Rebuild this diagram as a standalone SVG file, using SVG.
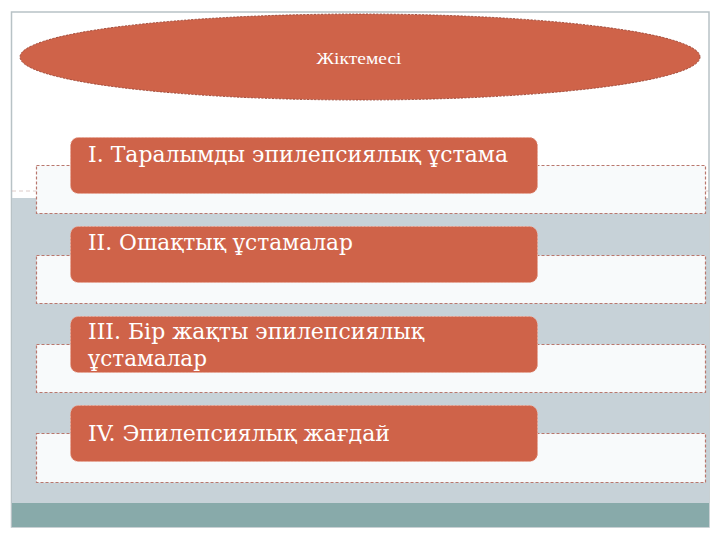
<svg xmlns="http://www.w3.org/2000/svg" width="720" height="540" viewBox="0 0 720 540">
<style>
.box{fill:#cf6349;stroke:#e8a898;stroke-width:1;stroke-dasharray:2 1.5}
.band{fill:#f8fafb;stroke:#b9776d;stroke-width:1.2;stroke-dasharray:3 2}
.lbl{font-family:"DejaVu Serif Condensed","Liberation Serif",serif;font-size:23px;fill:#ffffff}
</style>
<rect x="0" y="0" width="720" height="540" fill="#ffffff"/>
<g id="frame">
<rect x="11.5" y="12" width="697.5" height="515" fill="#ffffff" stroke="#b8c2c6" stroke-width="1.5"/>
<rect x="12" y="198" width="697" height="305" fill="#c7d2d8"/>
<rect x="12" y="503" width="697" height="24" fill="#88aaaa"/>
<line x1="12" y1="191" x2="709" y2="191" stroke="#c9aaa6" stroke-width="1" stroke-dasharray="4 3" opacity="0.6"/>
</g>
<g id="header">
<ellipse cx="360" cy="57" rx="340" ry="43" fill="#cf6349" stroke="#9e4b3b" stroke-width="1" stroke-dasharray="2 1.5"/>
<text x="359" y="64" text-anchor="middle" font-family="Liberation Serif, DejaVu Serif, serif" font-size="16" fill="#ffffff" textLength="85" lengthAdjust="spacingAndGlyphs">Жіктемесі</text>
</g>
<g id="connectors"></g>
<g id="node1">
<rect class="band" x="36.5" y="165.5" width="669" height="48"/>
<rect class="box" x="70.5" y="137.5" width="467" height="56" rx="8"/>
<text class="lbl" x="88" y="162" textLength="420" lengthAdjust="spacingAndGlyphs">I. Таралымды эпилепсиялық ұстама</text>
</g>
<g id="node2">
<rect class="band" x="36.5" y="255.5" width="669" height="48"/>
<rect class="box" x="70.5" y="226.5" width="467" height="56" rx="8"/>
<text class="lbl" x="88" y="250" textLength="265" lengthAdjust="spacingAndGlyphs">II. Ошақтық ұстамалар</text>
</g>
<g id="node3">
<rect class="band" x="36.5" y="344.5" width="669" height="48"/>
<rect class="box" x="70.5" y="316.5" width="467" height="56" rx="8"/>
<text class="lbl" x="88" y="339" textLength="336" lengthAdjust="spacingAndGlyphs">III. Бір жақты эпилепсиялық</text>
<text class="lbl" x="88" y="366" textLength="119" lengthAdjust="spacingAndGlyphs">ұстамалар</text>
</g>
<g id="node4">
<rect class="band" x="36.5" y="433.5" width="669" height="49"/>
<rect class="box" x="70.5" y="405.5" width="467" height="56" rx="8"/>
<text class="lbl" x="88" y="441" textLength="302" lengthAdjust="spacingAndGlyphs">IV. Эпилепсиялық жағдай</text>
</g>
</svg>
